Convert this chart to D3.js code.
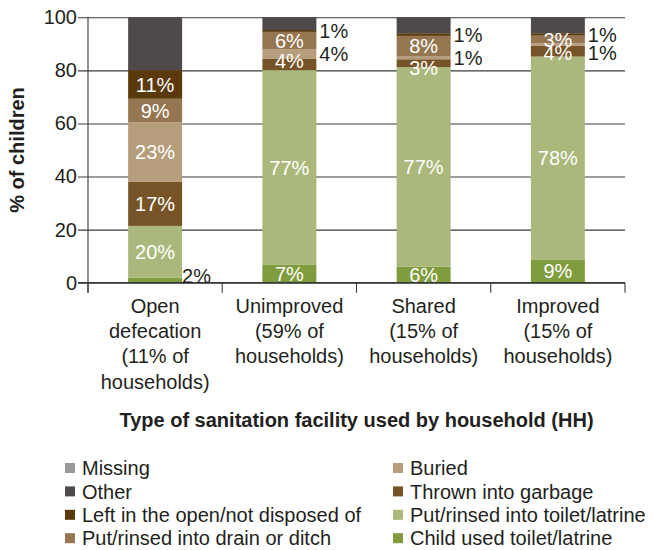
<!DOCTYPE html>
<html>
<head>
<meta charset="utf-8">
<script src="https://cdn.jsdelivr.net/npm/d3@7"></script>
<style>
  body { margin: 0; background: #fff; }
  text { font-family: "Liberation Sans", Arial, sans-serif; fill: #231f20; }
</style>
</head>
<body>
<script>
//Declare consts/global variables
const width = 657;
const height = 550;
const mLeft = 88, mRight = 625, mTop = 17.3, mBottom = 282.7;

//Data - categories and stacked shares (bottom to top)
const categories = ["Open defecation", "Unimproved", "Shared", "Improved"];
const categoryLines = [
    ["Open", "defecation", "(11% of", "households)"],
    ["Unimproved", "(59% of", "households)"],
    ["Shared", "(15% of", "households)"],
    ["Improved", "(15% of", "households)"]
];
const childUsed = [1.9, 6.7, 6.0, 8.6];
const toiletLatrine = [19.5, 73.4, 75.2, 76.6];
const garbage = [16.7, 4.2, 3.0, 4.0];
const buried = [22.4, 3.7, 1.0, 1.0];
const drainDitch = [8.8, 6.5, 7.8, 2.9];
const leftOpen = [10.8, 0.7, 1.0, 0.9];
const other = [19.9, 4.8, 6.0, 6.0];
const missing = [0, 0, 0, 0];

//printed percentages (null = no label), and which of them sit outside the bar
const labChild = [2, 7, 6, 9];
const labToilet = [20, 77, 77, 78];
const labGarbage = [17, 4, 3, 4];
const labBuried = [23, 4, 1, 1];
const labDrain = [9, 6, 8, 3];
const labLeftOpen = [11, 1, 1, 1];
const labOther = [null, null, null, null];
const labMissing = [null, null, null, null];
const outChild = [true, false, false, false];
const outBuried = [false, true, true, true];
const outLeftOpen = [false, true, true, true];

const yTicks = [0, 20, 40, 60, 80, 100];

const series = [
    {key: "Child used toilet/latrine", values: childUsed, labels: labChild, out: outChild, color: "#7f9c3e"},
    {key: "Put/rinsed into toilet/latrine", values: toiletLatrine, labels: labToilet, color: "#abb87b"},
    {key: "Thrown into garbage", values: garbage, labels: labGarbage, color: "#765427"},
    {key: "Buried", values: buried, labels: labBuried, out: outBuried, color: "#b69d7c"},
    {key: "Put/rinsed into drain or ditch", values: drainDitch, labels: labDrain, color: "#957651"},
    {key: "Left in the open/not disposed of", values: leftOpen, labels: labLeftOpen, out: outLeftOpen, color: "#5a3a0b"},
    {key: "Other", values: other, labels: labOther, color: "#4e4a49"},
    {key: "Missing", values: missing, labels: labMissing, color: "#9a9a9a"}
];
const legendCols = [
    ["Missing", "Other", "Left in the open/not disposed of", "Put/rinsed into drain or ditch"],
    ["Buried", "Thrown into garbage", "Put/rinsed into toilet/latrine", "Child used toilet/latrine"]
];

//table for d3.stack
const table = categories.map((c, i) => {
    const row = {category: c};
    series.forEach(s => row[s.key] = s.values[i]);
    return row;
});
const stacked = d3.stack().keys(series.map(s => s.key))(table);

//Scales
const xScale = d3.scaleBand()
    .domain(categories)
    .range([mLeft, mRight])
    .paddingInner(0.598)
    .paddingOuter(0.299);

const yScale = d3.scaleLinear()
    .domain([0, 100])
    .range([mBottom, mTop]);

const color = d3.scaleOrdinal()
    .domain(series.map(s => s.key))
    .range(series.map(s => s.color));

//SVG
const svg = d3.select("body")
    .append("svg")
    .attr("width", width)
    .attr("height", height);

//Gridlines / left axis
const leftAxis = d3.axisLeft(yScale)
    .tickValues(yTicks)
    .tickSize(-(mRight - mLeft))
    .tickPadding(11);

svg.append("g")
    .attr("transform", "translate(" + mLeft + ",0)")
    .call(leftAxis)
    .call(g => g.select(".domain").remove())
    .call(g => g.selectAll(".tick line").attr("x1", -10).attr("stroke", "#3a3a3a").attr("stroke-width", 1.1))
    .call(g => g.selectAll(".tick text")
        .style("font-size", "20px")
        .style("font-family", "'Liberation Sans', Arial, sans-serif")
        .attr("fill", "#231f20"));

//Bars
const layer = svg.selectAll("g.layer")
    .data(stacked)
    .enter()
    .append("g")
    .attr("class", "layer")
    .attr("fill", d => color(d.key));

layer.selectAll("rect")
    .data(d => d)
    .enter()
    .append("rect")
    .attr("x", d => xScale(d.data.category))
    .attr("y", d => yScale(d[1]))
    .attr("width", xScale.bandwidth())
    .attr("height", d => yScale(d[0]) - yScale(d[1]));

//Axis lines
svg.append("line")
    .attr("x1", mLeft).attr("x2", mLeft)
    .attr("y1", mTop).attr("y2", mBottom + 10)
    .attr("stroke", "#3a3a3a").attr("stroke-width", 1.1);

svg.append("line")
    .attr("x1", mLeft - 10).attr("x2", mRight)
    .attr("y1", mBottom).attr("y2", mBottom)
    .attr("stroke", "#3a3a3a").attr("stroke-width", 1.3);

const bounds = categories.map(c => xScale(c) - xScale.step() * xScale.paddingInner() / 2)
    .concat([mRight]);
svg.selectAll("line.btick")
    .data(bounds)
    .enter()
    .append("line")
    .attr("x1", d => d).attr("x2", d => d)
    .attr("y1", mBottom).attr("y2", mBottom + 10)
    .attr("stroke", "#3a3a3a").attr("stroke-width", 1.1);

//Category labels
const catText = svg.selectAll("text.cat")
    .data(categories)
    .enter()
    .append("text")
    .attr("class", "cat")
    .attr("text-anchor", "middle")
    .style("font-size", "20px");

catText.selectAll("tspan")
    .data((d, i) => categoryLines[i].map(line => ({c: d, line: line})))
    .enter()
    .append("tspan")
    .attr("x", d => xScale(d.c) + xScale.bandwidth() / 2)
    .attr("y", (d, j) => mBottom + 30 + j * 25.3)
    .text(d => d.line);

//Bar value labels
const nudge = {"Thrown into garbage|Unimproved": -4, "Thrown into garbage|Shared": 5, "Thrown into garbage|Improved": 2};
const outside = {};
stacked.forEach((layerData, si) => {
    const s = series[si];
    layerData.forEach((d, i) => {
        const lab = s.labels[i];
        if (lab === null) return;
        const c = d.data.category;
        const yMid = (yScale(d[0]) + yScale(d[1])) / 2;
        if (s.out && s.out[i]) {
            (outside[c] = outside[c] || []).push({lab: lab, y: Math.min(yMid, mBottom - 7)});
        } else {
            svg.append("text")
                .attr("x", xScale(c) + xScale.bandwidth() / 2)
                .attr("y", yMid + (nudge[s.key + "|" + c] || 0))
                .attr("dy", "0.36em")
                .attr("text-anchor", "middle")
                .style("font-size", "20px")
                .style("fill", "#fff")
                .text(lab + "%");
        }
    });
});

Object.keys(outside).forEach(c => {
    const labs = outside[c].sort((a, b) => a.y - b.y);
    labs.forEach((l, k) => {
        if (k > 0 && l.y < labs[k - 1].y + 18) l.y = labs[k - 1].y + 18;
        svg.append("text")
            .attr("x", xScale(c) + xScale.bandwidth() + (c === categories[0] ? 0 : 3))
            .attr("y", l.y)
            .attr("dy", "0.36em")
            .style("font-size", "20px")
            .text(l.lab + "%");
    });
});

//Axis titles
svg.append("text")
    .attr("transform", "translate(17," + (mTop + mBottom) / 2 + ") rotate(-90)")
    .attr("text-anchor", "middle")
    .attr("dy", "0.36em")
    .style("font-size", "20px")
    .style("font-weight", "bold")
    .text("% of children");

svg.append("text")
    .attr("x", (mLeft + mRight) / 2)
    .attr("y", 420)
    .attr("dy", "0.36em")
    .attr("text-anchor", "middle")
    .style("font-size", "20px")
    .style("font-weight", "bold")
    .text("Type of sanitation facility used by household (HH)");

//Legend
const legendX = [65, 393];
legendCols.forEach((col, ci) => {
    const g = svg.append("g").attr("transform", "translate(" + legendX[ci] + ",468)");
    const item = g.selectAll("g")
        .data(col)
        .enter()
        .append("g")
        .attr("transform", (d, j) => "translate(0," + j * 23.4 + ")");
    item.append("rect")
        .attr("x", 0).attr("y", -5)
        .attr("width", 10).attr("height", 10)
        .attr("fill", d => color(d));
    item.append("text")
        .attr("x", 17)
        .attr("dy", "0.36em")
        .style("font-size", "20px")
        .text(d => d);
});
</script>
</body>
</html>
